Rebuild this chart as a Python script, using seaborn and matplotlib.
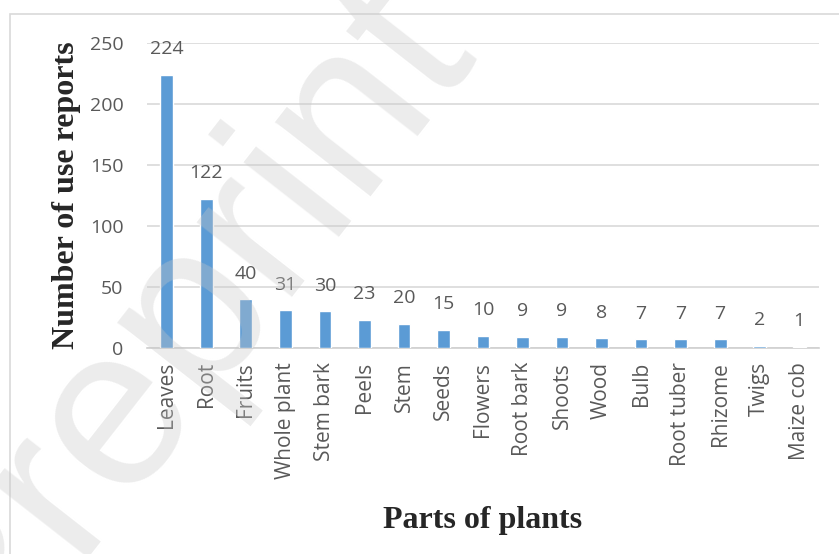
import matplotlib
matplotlib.use("Agg")
import matplotlib.pyplot as plt
import seaborn as sns
import pandas as pd
from matplotlib.patches import Rectangle

# data
parts = ["Leaves", "Root", "Fruits", "Whole plant", "Stem bark", "Peels", "Stem",
         "Seeds", "Flowers", "Root bark", "Shoots", "Wood", "Bulb", "Root tuber",
         "Rhizome", "Twigs", "Maize cob"]
reports = [224, 122, 40, 31, 30, 23, 20, 15, 10, 9, 9, 8, 7, 7, 7, 2, 1]
y_ticks = [0, 50, 100, 150, 200, 250]

df = pd.DataFrame({"Part": parts, "Reports": reports})

sns.set_theme(style="white")
plt.rcParams["font.family"] = ["Open Sans", "DejaVu Sans"]

BAR = "#5B9BD5"
TXT = "#595959"
GRID = "#d9d9d9"

fig = plt.figure(figsize=(8.39, 5.54), dpi=100)

# outer chart border
fig.patches.append(Rectangle((10 / 839, -0.1), 1.2, 1 - 14 / 554 + 0.1,
                             transform=fig.transFigure, fill=False,
                             edgecolor="#d9d9d9", linewidth=1.2, zorder=1))

ax = fig.add_axes([147 / 839, 1 - 348 / 554, 672 / 839, 305 / 554])
ax.patch.set_alpha(0)

sns.barplot(data=df, x="Part", y="Reports", color=BAR, width=0.32,
            saturation=1, ax=ax, zorder=3)

ax.set_ylim(0, 250)
ax.set_xlim(-0.5, len(parts) - 0.5)
ax.set_yticks(y_ticks)
ax.yaxis.grid(True, color=GRID, linewidth=1.2, zorder=0)
ax.set_axisbelow(True)
for s in ["top", "right", "left"]:
    ax.spines[s].set_visible(False)
ax.spines["bottom"].set_color("#d0d0d0")
ax.spines["bottom"].set_linewidth(1.2)

ax.tick_params(axis="y", length=0, labelsize=14, labelcolor=TXT, pad=17)
ax.tick_params(axis="x", length=0, labelsize=15, labelcolor=TXT, pad=10,
               rotation=90)

for i, v in enumerate(reports):
    ax.annotate(str(v), (i, v), xytext=(0, 12), textcoords="offset points",
                ha="center", va="bottom", fontsize=14, color=TXT)

ax.set_xlabel("Parts of plants", family="Liberation Serif", fontweight="bold",
              fontsize=23, color="#262626", labelpad=20)
ax.set_ylabel("Number of use reports", family="Liberation Serif",
              fontweight="bold", fontsize=23, color="#262626", labelpad=6)

# faint watermark laid over the chart
fig.text(178 / 839, 1 - 322 / 554, "Preprint", fontsize=165, color="#c8c8c8",
         alpha=0.35, rotation=52, rotation_mode="anchor", ha="center",
         va="center", family="Liberation Sans", zorder=10)

fig.savefig("out.png", dpi=100)
